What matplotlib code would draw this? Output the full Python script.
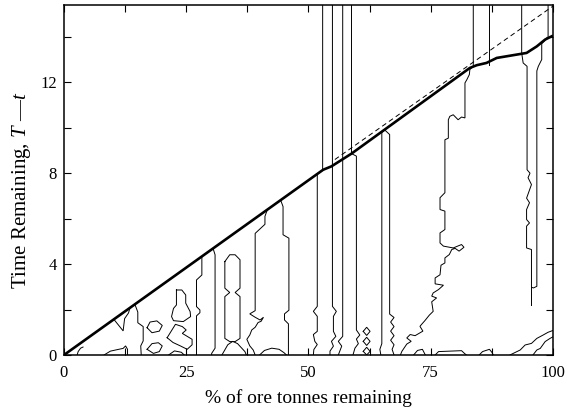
import matplotlib
matplotlib.use("Agg")
import matplotlib.pyplot as plt
from matplotlib.ticker import MultipleLocator

plt.rcParams['font.family'] = 'Liberation Serif'
plt.rcParams['mathtext.fontset'] = 'custom'
plt.rcParams['mathtext.rm'] = 'Liberation Serif'
plt.rcParams['mathtext.it'] = 'Liberation Serif:italic'

# optimal boundary (thick) and the straight reference (dashed)
thick_x = [0, 53.0, 54.7, 58.8, 83.0, 84.4, 86.4, 88.5, 94.6, 96.7, 98.4, 100]
thick_y = [0, 8.15, 8.30, 8.86, 12.63, 12.75, 12.85, 13.07, 13.29, 13.58, 13.88, 14.05]
dash_x = [55.4, 100]
dash_y = [8.6, 15.35]

# thin contour lines, (x, y) points
c_arc = [(2.7, 0), (2.9, 0.15), (3.4, 0.3), (3.9, 0.35)]
c_low1 = [(8.2, 0), (9.5, 0.17), (11.2, 0.25), (12.1, 0.29), (12.6, 0.40), (13.0, 0.25), (13.0, 0)]
c_tri = [(10.2, 1.57), (12.1, 1.06), (12.4, 1.6), (13.2, 1.85), (13.5, 2.07)]
c_a2 = [(14.5, 2.23), (15.1, 1.89), (15.1, 1.42), (16.2, 1.25), (16.2, 0.62), (15.7, 0.40), (15.8, 0)]
c_ring1 = [(17.0, 1.2), (17.6, 1.45), (19.0, 1.5), (20.1, 1.3), (19.5, 1.05), (18.0, 0.98), (17.0, 1.2)]
c_ring2 = [(17.0, 0.25), (18.0, 0.5), (19.3, 0.54), (20.1, 0.4), (19.5, 0.15), (18.3, 0.07), (17.0, 0.25)]
c_blob = [(23.0, 2.86), (24.1, 2.86), (24.9, 2.64), (24.9, 2.28), (25.8, 1.91), (25.9, 1.69),
          (24.4, 1.47), (22.4, 1.51), (22.0, 1.69), (22.4, 2.05), (23.0, 2.2), (23.0, 2.72), (23.0, 2.86)]
c_dbl1 = [(21.1, 0.76), (22.8, 1.35), (24.2, 1.25), (25.0, 1.10), (24.2, 0.95), (26.2, 0.69),
          (26.2, 0.45), (25.2, 0.25), (23.8, 0.4), (22.3, 0.55), (21.1, 0.76)]
c_dbl2 = [(21.4, 0), (22.6, 0.18), (24.0, 0.12), (24.6, 0)]
c_c1 = [(28.2, 4.30), (28.2, 3.52), (27.1, 3.30), (27.1, 2.13), (27.8, 1.98), (27.8, 1.86), (27.1, 1.72), (27.1, 0)]
c_c2 = [(30.5, 4.68), (30.9, 4.41), (30.9, 0.3), (30.2, 0.07), (30.2, 0)]
c_eight = [(32.9, 4.11), (33.9, 4.41), (35.0, 4.41), (36.0, 4.19), (36.0, 2.94), (35.0, 2.75), (36.0, 2.57),
           (36.0, 0.73), (35.0, 0.59), (33.9, 0.59), (32.9, 0.73), (32.9, 2.57), (33.9, 2.75), (32.9, 2.94),
           (32.9, 4.11)]
c_under8 = [(32.3, 0), (33.5, 0.45), (34.5, 0.6), (35.5, 0.5), (37.0, 0.15), (37.3, 0)]
c_d = [(41.6, 6.4), (41.1, 6.1), (41.1, 5.75), (40.1, 5.55), (39.1, 5.35), (39.1, 1.95), (38.0, 1.81),
       (39.1, 1.66), (40.1, 1.54), (40.8, 1.66), (40.3, 1.48), (39.7, 1.43), (39.1, 1.22), (38.4, 1.10),
       (38.0, 0.88), (37.4, 0.69), (38.0, 0.40), (38.7, 0.22), (39.1, 0)]
c_e = [(44.3, 6.82), (44.8, 6.53), (44.8, 5.29), (46.0, 5.14), (46.0, 1.97), (45.1, 1.81), (45.1, 1.54),
       (45.9, 1.37), (45.9, 0)]
c_bump45 = [(40.0, 0), (41.0, 0.2), (42.5, 0.3), (44.0, 0.25), (45.0, 0.1), (45.5, 0)]
c_51 = [(52.9, 15.4), (52.9, 8.12), (51.8, 7.97), (51.8, 2.14), (51.0, 1.92), (51.8, 1.70), (51.8, 1.04),
        (51.0, 0.90), (51.3, 0.60), (51.8, 0.46), (51.1, 0.24), (51.0, 0)]
c_55 = [(54.9, 15.4), (54.9, 2.14), (55.7, 1.92), (55.1, 1.70), (55.1, 1.04), (55.6, 0.82), (54.7, 0.60),
        (55.1, 0.39), (54.4, 0.17), (54.4, 0)]
c_57 = [(57.0, 15.4), (57.0, 0.82), (56.1, 0.60), (56.8, 0.39), (56.1, 0)]
c_59 = [(58.8, 15.4), (58.8, 8.86), (59.8, 8.75), (59.8, 1.10), (60.5, 0.88), (59.8, 0.70), (60.2, 0.5),
        (59.5, 0.3), (59.1, 0)]
c_dia1 = [(61.2, 1.04), (61.9, 1.22), (62.6, 1.04), (61.9, 0.86), (61.2, 1.04)]
c_dia2 = [(61.2, 0.6), (61.9, 0.78), (62.6, 0.6), (61.9, 0.42), (61.2, 0.6)]
c_dia3 = [(61.2, 0.16), (61.9, 0.34), (62.6, 0.16), (61.9, 0.0), (61.2, 0.16)]
c_65 = [(64.8, 0), (64.6, 0.25), (65.0, 0.5), (65.0, 9.8), (65.6, 9.9), (66.6, 9.7), (66.6, 1.80),
        (67.5, 1.65), (66.8, 1.45), (67.5, 1.25), (66.8, 1.05), (67.5, 0.85), (66.8, 0.65), (67.5, 0.45),
        (67.1, 0.25), (67.5, 0)]
c_long = [(83.7, 15.4), (83.7, 12.7), (83.0, 12.56), (82.9, 12.34), (82.4, 12.12), (82.0, 11.97),
          (82.0, 10.43), (81.3, 10.47), (80.6, 10.35), (79.6, 10.57), (78.9, 10.50), (78.6, 10.35),
          (78.6, 9.54), (77.9, 9.47), (77.9, 7.14), (76.9, 6.92), (76.9, 6.40), (77.9, 6.33), (77.9, 5.52),
          (76.9, 5.37), (76.9, 4.93), (77.6, 4.79), (79.6, 4.71), (81.3, 4.86), (81.8, 4.74), (80.8, 4.57),
          (80.0, 4.69), (79.3, 4.64), (78.8, 4.42), (77.9, 4.27), (77.9, 4.05), (77.1, 3.95), (76.9, 3.53),
          (75.9, 3.39), (75.9, 3.13), (77.6, 3.07), (76.6, 2.88), (75.5, 2.73), (75.2, 2.59), (76.2, 2.51),
          (75.2, 2.34), (75.5, 1.92), (74.7, 1.75), (73.8, 1.51), (73.1, 1.34), (72.8, 1.26), (73.4, 1.05),
          (71.8, 0.85), (70.8, 0.9), (70.1, 0.75), (71.0, 0.6), (70.1, 0.48), (69.1, 0.16), (68.8, 0)]
c_v2 = [(86.9, 15.4), (86.9, 12.75)]
c_u = [(93.6, 15.4), (93.6, 13.29), (93.9, 12.85), (94.7, 12.7), (94.7, 8.15), (95.3, 8.0), (94.9, 7.8),
       (95.6, 7.5), (94.6, 6.9), (95.2, 6.7), (94.6, 6.4), (94.6, 5.96), (95.2, 5.81), (94.6, 5.67),
       (94.6, 4.71), (95.6, 4.64), (95.6, 2.98), (96.0, 2.95), (96.7, 3.02), (96.7, 12.5), (97.0, 12.7),
       (97.7, 13.0), (97.7, 13.7), (99.0, 13.98), (99.0, 15.4)]
c_tail = [(95.6, 2.98), (95.6, 2.2)]
c_b0 = [(71.5, 0), (72.3, 0.2), (73.3, 0.25), (73.9, 0)]
c_b1 = [(75.9, 0), (76.6, 0.15), (81.3, 0.19), (81.9, 0.07), (82.3, 0)]
c_b2 = [(84.9, 0), (85.6, 0.15), (87.0, 0.25), (87.5, 0.12), (87.8, 0)]
c_b3 = [(91.2, 0), (93.3, 0.22), (94.3, 0.44), (95.6, 0.51), (96.7, 0.73), (98.0, 0.88), (99.0, 1.0), (100, 1.08)]
c_b4 = [(95.9, 0), (96.7, 0.22), (97.4, 0.29), (98.4, 0.59), (99.4, 0.73), (100, 0.8)]

contours = [c_arc, c_low1, c_tri, c_a2, c_ring1, c_ring2, c_blob, c_dbl1, c_dbl2, c_c1, c_c2,
            c_eight, c_under8, c_d, c_e, c_bump45, c_51, c_55, c_57, c_59, c_dia1, c_dia2, c_dia3,
            c_65, c_long, c_v2, c_u, c_tail, c_b0, c_b1, c_b2, c_b3, c_b4]

fig = plt.figure(figsize=(5.66, 4.15), dpi=100)
ax = fig.add_axes([0.113, 0.1446, 0.864, 0.8434])

for c in contours:
    xs = [p[0] for p in c]
    ys = [p[1] for p in c]
    ax.plot(xs, ys, color='black', lw=0.7, solid_joinstyle='miter')

ax.plot(dash_x, dash_y, color='black', lw=0.7, dashes=(5, 3.5))
ax.plot(thick_x, thick_y, color='black', lw=1.9, solid_capstyle='butt')

ax.set_xlim(0, 100)
ax.set_ylim(0, 15.4)
ax.xaxis.set_major_locator(MultipleLocator(25))
ax.xaxis.set_minor_locator(MultipleLocator(12.5))
ax.yaxis.set_major_locator(MultipleLocator(4))
ax.yaxis.set_minor_locator(MultipleLocator(2))
ax.tick_params(which='both', direction='in', top=True, right=True, length=5, width=0.8,
               labelsize=12)
ax.tick_params(axis='x', pad=7)
ax.tick_params(axis='y', pad=5)
for s in ax.spines.values():
    s.set_linewidth(1.1)

ax.set_xlabel('% of ore tonnes remaining', fontsize=14, labelpad=6)
ax.set_ylabel('Time Remaining, $T$ \u2014$t$', fontsize=15)
ax.yaxis.set_label_coords(-0.063, 0.47)

fig.savefig('out.png', dpi=100)
